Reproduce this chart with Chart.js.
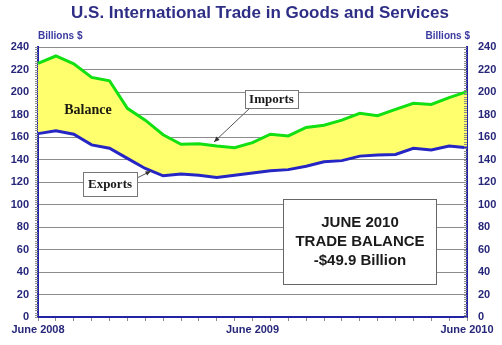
<!DOCTYPE html>
<html>
<head>
<meta charset="utf-8">
<script src="https://cdn.jsdelivr.net/npm/chart.js@4"></script>
<style>
  html, body { margin: 0; padding: 0; background: #fff; }
  #wrap { width: 502px; height: 345px; position: relative; }
</style>
</head>
<body>
<div id="wrap"><canvas id="trade"></canvas></div>
<script>
// monthly data, June 2008 - June 2010 (billions $)
const months = ['June 2008', 'Jul', 'Aug', 'Sep', 'Oct', 'Nov', 'Dec', 'Jan', 'Feb', 'Mar', 'Apr', 'May',
  'June 2009', 'Jul', 'Aug', 'Sep', 'Oct', 'Nov', 'Dec', 'Jan', 'Feb', 'Mar', 'Apr', 'May', 'June 2010'];
const imports = [225.5, 232, 225, 213, 210, 185.5, 175, 162, 153.5, 154, 152, 150.5,
  155, 162.5, 161, 168.5, 170.5, 175, 181, 179, 184.5, 190, 189, 195, 200.3];
const exports = [163, 165.5, 162.5, 153, 150, 141, 132, 125.5, 127, 126, 124, 126,
  128, 130, 131, 134, 138, 139, 143, 144, 144.5, 150, 148.5, 152, 150.4];
const shownLabels = ['June 2008', 'June 2009', 'June 2010'];

const navy = '#27277a';
const axisBlue = '#2323a8';

// title, side captions, minor ticks and the callout boxes
const decorations = {
  id: 'decorations',
  afterDraw(chart) {
    const ctx = chart.ctx;
    const y = chart.scales.y;
    const area = chart.chartArea;
    ctx.save();

    ctx.fillStyle = '#2e2e86';
    ctx.font = 'bold 17px "Liberation Sans", Arial, sans-serif';
    ctx.textAlign = 'center';
    ctx.textBaseline = 'middle';
    ctx.fillText('U.S. International Trade in Goods and Services', 260, 13);

    ctx.font = 'bold 10px "Liberation Sans", Arial, sans-serif';
    ctx.fillStyle = '#3b3ba0';
    ctx.textAlign = 'left';
    ctx.fillText('Billions $', 38, 36);
    ctx.textAlign = 'right';
    ctx.fillText('Billions $', 470, 36);

    // minor hatch marks along both value axes
    ctx.strokeStyle = '#8a8a8a';
    ctx.lineWidth = 1;
    for (let v = 0; v <= 240; v += 2) {
      const py = Math.round(y.getPixelForValue(v)) + 0.5;
      ctx.beginPath();
      ctx.moveTo(area.left - 3, py); ctx.lineTo(area.left, py);
      ctx.moveTo(area.right - 3, py); ctx.lineTo(area.right, py);
      ctx.stroke();
    }

    // Balance label
    ctx.fillStyle = '#1a1a10';
    ctx.font = 'bold 14px "Liberation Serif", "Times New Roman", serif';
    ctx.textAlign = 'center';
    ctx.fillText('Balance', 88, 110);

    function callout(text, bx, by, bw, bh, fx, fy, tx, ty) {
      ctx.strokeStyle = '#555';
      ctx.lineWidth = 1;
      ctx.beginPath();
      ctx.moveTo(fx, fy); ctx.lineTo(tx, ty);
      ctx.stroke();
      const a = Math.atan2(ty - fy, tx - fx);
      ctx.fillStyle = '#333';
      ctx.beginPath();
      ctx.moveTo(tx, ty);
      ctx.lineTo(tx - 6 * Math.cos(a - 0.4), ty - 6 * Math.sin(a - 0.4));
      ctx.lineTo(tx - 6 * Math.cos(a + 0.4), ty - 6 * Math.sin(a + 0.4));
      ctx.closePath();
      ctx.fill();
      ctx.fillStyle = '#fff';
      ctx.fillRect(bx, by, bw, bh);
      ctx.strokeStyle = '#777';
      ctx.strokeRect(bx + 0.5, by + 0.5, bw, bh);
      ctx.fillStyle = '#1a1a1a';
      ctx.font = 'bold 13px "Liberation Serif", "Times New Roman", serif';
      ctx.textAlign = 'center';
      ctx.fillText(text, bx + bw / 2, by + bh / 2 + 1);
    }
    callout('Imports', 245, 90, 53, 18, 250, 108, 214, 142);
    callout('Exports', 83, 172, 54, 24, 137, 178, 151, 171);

    // trade balance box
    ctx.fillStyle = '#fff';
    ctx.fillRect(283, 199, 153, 85);
    ctx.strokeStyle = '#666';
    ctx.strokeRect(283.5, 199.5, 153, 85);
    ctx.fillStyle = '#1a1a1a';
    ctx.font = 'bold 15px "Liberation Sans", Arial, sans-serif';
    ctx.fillText('JUNE 2010', 360, 223);
    ctx.fillText('TRADE BALANCE', 360, 242);
    ctx.fillText('-$49.9 Billion', 360, 261);
    ctx.restore();
  }
};

const tickFont = { family: '"Liberation Sans", Arial, sans-serif', size: 11, weight: 'bold' };

new Chart(document.getElementById('trade'), {
  type: 'line',
  data: {
    labels: months,
    datasets: [
      {
        label: 'Imports',
        data: imports,
        borderColor: '#12e012',
        borderWidth: 3,
        backgroundColor: '#ffff6e',
        fill: '+1',
        pointRadius: 0,
        tension: 0
      },
      {
        label: 'Exports',
        data: exports,
        borderColor: '#2626c4',
        borderWidth: 3,
        fill: false,
        pointRadius: 0,
        tension: 0
      }
    ]
  },
  options: {
    responsive: true,
    maintainAspectRatio: false,
    animation: false,
    layout: { padding: { top: 47, left: 0, right: 0, bottom: 0 } },
    plugins: {
      legend: { display: false },
      tooltip: { enabled: false },
      title: { display: false },
      filler: { drawTime: 'beforeDatasetsDraw' }
    },
    scales: {
      x: {
        offset: false,
        border: { color: axisBlue, width: 2 },
        grid: { drawOnChartArea: false, drawTicks: true, tickLength: 4, color: '#8a8a8a' },
        ticks: {
          autoSkip: false,
          maxRotation: 0,
          padding: 2,
          color: navy,
          font: tickFont,
          callback: function (val) {
            const l = months[val];
            return shownLabels.includes(l) ? l : '';
          }
        },
        afterFit(scale) { scale.height = 28; }
      },
      y: {
        position: 'left',
        min: 0,
        max: 240,
        border: { color: axisBlue, width: 2 },
        grid: { color: '#8c8c8c', drawTicks: false },
        ticks: { stepSize: 20, padding: 9, color: navy, font: tickFont },
        afterFit(scale) { scale.width = 38; }
      },
      y2: {
        position: 'right',
        min: 0,
        max: 240,
        border: { color: axisBlue, width: 2 },
        grid: { drawOnChartArea: false, drawTicks: false },
        ticks: { stepSize: 20, padding: 11, color: navy, font: tickFont },
        afterFit(scale) { scale.width = 35; }
      }
    }
  },
  plugins: [decorations]
});
</script>
</body>
</html>
